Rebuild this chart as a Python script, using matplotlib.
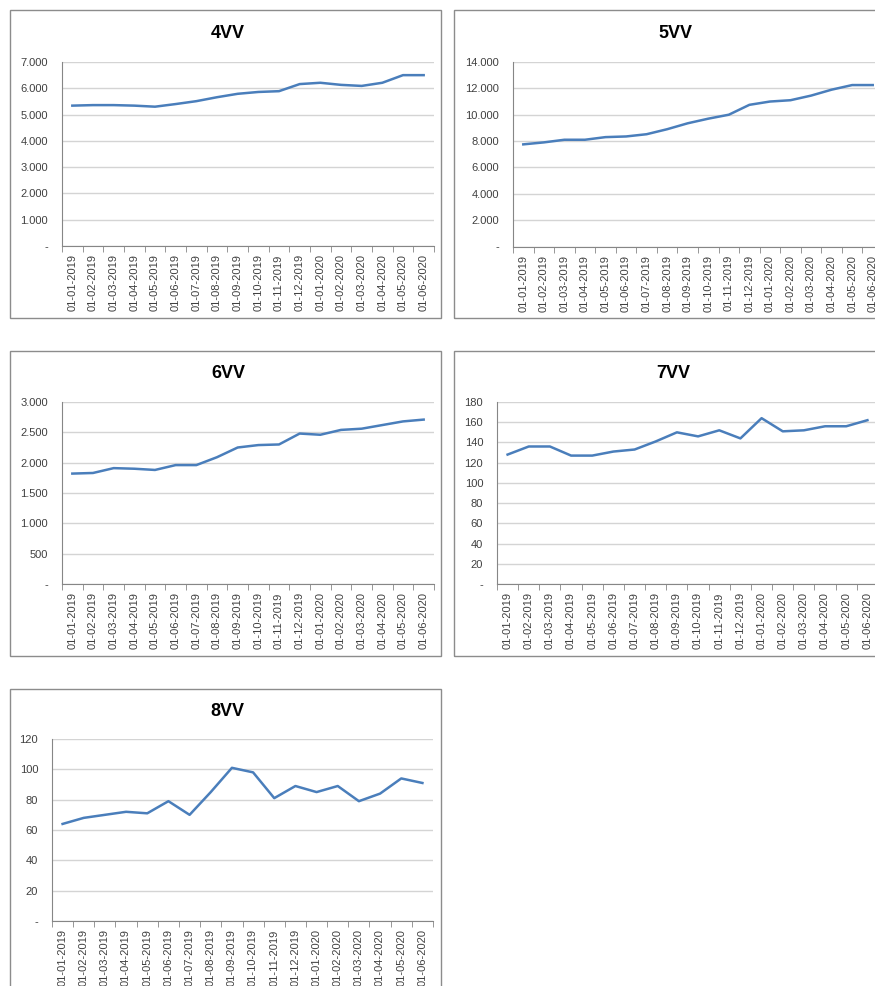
import matplotlib
matplotlib.use("Agg")
import matplotlib.pyplot as plt
from matplotlib.patches import Rectangle
from matplotlib.ticker import FuncFormatter, MultipleLocator

# data (monthly, 01-01-2019 .. 01-06-2020)
dates = ["01-01-2019", "01-02-2019", "01-03-2019", "01-04-2019", "01-05-2019",
         "01-06-2019", "01-07-2019", "01-08-2019", "01-09-2019", "01-10-2019",
         "01-11-2019", "01-12-2019", "01-01-2020", "01-02-2020", "01-03-2020",
         "01-04-2020", "01-05-2020", "01-06-2020"]

vv4 = [5340, 5360, 5360, 5340, 5300, 5400, 5510, 5660, 5790, 5860,
       5890, 6160, 6210, 6130, 6090, 6210, 6500, 6500]
vv5 = [7750, 7900, 8100, 8100, 8300, 8350, 8520, 8900, 9350, 9700,
       10000, 10750, 11000, 11100, 11450, 11900, 12250, 12250]
vv6 = [1820, 1830, 1910, 1900, 1880, 1960, 1960, 2090, 2250, 2290,
       2300, 2480, 2460, 2540, 2560, 2620, 2680, 2710]
vv7 = [128, 136, 136, 127, 127, 131, 133, 141, 150, 146,
       152, 144, 164, 151, 152, 156, 156, 162]
vv8 = [64, 68, 70, 72, 71, 79, 70, 85, 101, 98,
       81, 89, 85, 89, 79, 84, 94, 91]

W, H = 875, 986
LINE = "#4a7ebb"
GRID = "#d4d4d4"
TXT = "#404040"
AXC = "#868686"

plt.rcParams["font.family"] = ["Liberation Sans", "DejaVu Sans"]

fig = plt.figure(figsize=(W / 100, H / 100), dpi=100)


def fmt(v, pos):
    if abs(v) < 1e-9:
        return "-"
    return f"{int(round(v)):,}".replace(",", ".")


# (title, values, ymax, step, panel box px (x0,y0,x1,y1), plot box px (x0,y0,x1,y1), title centre px)
panels = [
    ("4VV", vv4, 7000, 1000, (10, 10, 441, 318), (62, 62, 434, 246), (228, 33)),
    ("5VV", vv5, 14000, 2000, (454, 10, 900, 318), (513, 62, 883, 246.5), (675, 33)),
    ("6VV", vv6, 3000, 500, (10, 351, 441, 656), (62, 402, 434, 584), (228, 373)),
    ("7VV", vv7, 180, 20, (454, 351, 900, 656), (497, 402, 878, 584), (673, 373)),
    ("8VV", vv8, 120, 20, (10, 689, 441, 1000), (52, 739, 433, 921), (227, 712)),
]

for title, vals, ymax, step, box, plot, tpos in panels:
    # chart-area border
    bx0, by0, bx1, by1 = box
    fig.add_artist(Rectangle((bx0 / W, 1 - by1 / H), (bx1 - bx0) / W, (by1 - by0) / H,
                             transform=fig.transFigure, fill=False,
                             edgecolor="#8c8c8c", linewidth=1.0))
    fig.text(tpos[0] / W, 1 - tpos[1] / H, title, ha="center", va="center",
             fontsize=13, fontweight="bold", color="black")

    px0, py0, px1, py1 = plot
    ax = fig.add_axes([px0 / W, 1 - py1 / H, (px1 - px0) / W, (py1 - py0) / H])
    x = list(range(len(dates)))
    ax.plot(x, vals, color=LINE, linewidth=1.8, solid_joinstyle="round")

    ax.set_xlim(-0.5, len(dates) - 0.5)
    ax.set_ylim(0, ymax)
    ax.yaxis.set_major_locator(MultipleLocator(step))
    ax.yaxis.set_major_formatter(FuncFormatter(fmt))
    ax.grid(axis="y", color=GRID, linewidth=1.0)
    ax.set_axisbelow(True)

    ax.set_xticks(x)
    ax.set_xticklabels(dates, rotation=90)
    ax.set_xticks([i - 0.5 for i in range(len(dates) + 1)], minor=True)
    ax.tick_params(axis="x", which="major", length=0, pad=6, labelsize=8, labelcolor=TXT)
    ax.tick_params(axis="x", which="minor", length=4, color=AXC, direction="out")
    ax.tick_params(axis="y", length=0, pad=10, labelsize=8, labelcolor=TXT)

    for s in ("top", "right"):
        ax.spines[s].set_visible(False)
    for s in ("left", "bottom"):
        ax.spines[s].set_color(AXC)
        ax.spines[s].set_linewidth(0.8)

fig.savefig("out.png", dpi=100)
